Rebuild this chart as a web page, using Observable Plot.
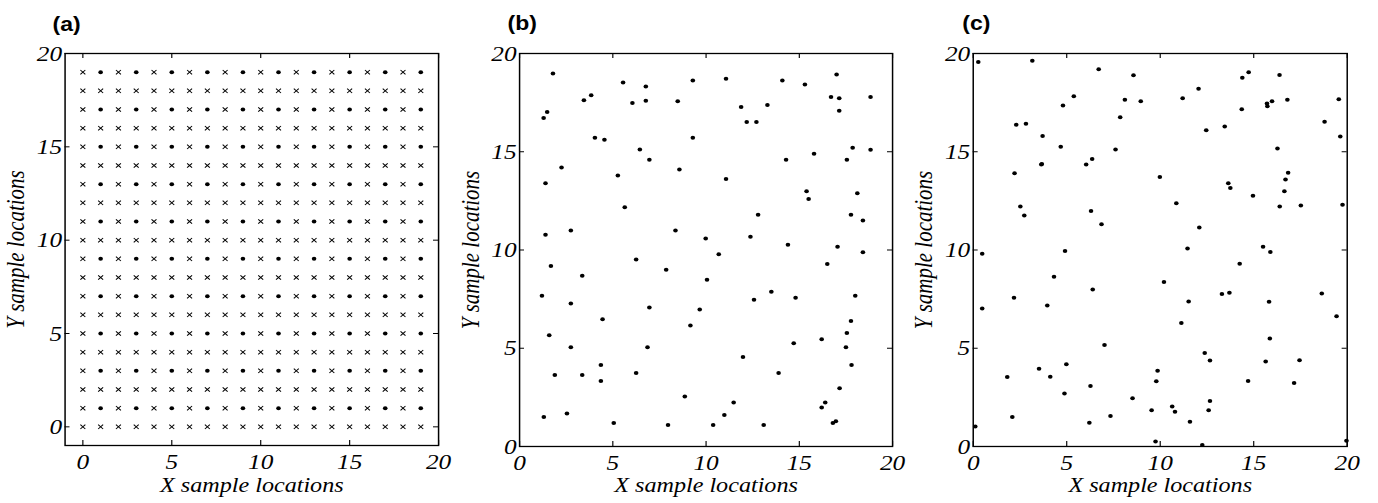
<!DOCTYPE html>
<html><head><meta charset="utf-8">
<script src="https://cdn.jsdelivr.net/npm/d3@7"></script>
<script src="https://cdn.jsdelivr.net/npm/@observablehq/plot@0.6"></script>
<style>
html,body{margin:0;padding:0;background:#fff;overflow:hidden;}
#wrap{position:relative;height:503px;transform-origin:0 0;}
#wrap svg{position:absolute;top:0;max-width:none;background:transparent;}
</style></head><body><div id="wrap"></div>
<script>
// ---------- data ----------
const gridX = [0,1,2,3,4,5,6,7,8,9,10,11,12,13,14,15,16,17,18,19];
const gridY = [0,1,2,3,4,5,6,7,8,9,10,11,12,13,14,15,16,17,18,19];
const dotCols = [1,3,5,7,9,11,13,15,17,19];
const dotRows = [1,3,5,7,9,11,13,15,17,19];

const bX = [1.29,1.48,1.79,1.39,1.39,2.25,2.75,3.45,3.84,4.04,4.55,5.27,5.55,5.64,6.05,6.45,6.77,6.77,6.96,8.36,8.48,8.57,9.29,9.29,9.98,11.07,11.07,11.88,12.18,12.70,12.38,12.79,13.29,14.09,14.29,14.39,15.30,15.39,15.50,15.79,16.70,17.00,17.14,17.14,17.05,17.55,17.86,18.11,17.77,18.41,18.82,18.82,
  1.20,1.68,1.59,1.89,1.30,2.54,2.75,2.75,3.36,3.36,4.36,4.36,4.45,5.05,6.25,6.25,6.86,6.96,7.86,7.96,8.86,9.16,9.66,10.05,10.68,10.38,10.98,11.48,11.98,12.57,13.09,13.50,13.89,14.70,14.80,16.20,16.20,16.39,16.50,16.80,16.96,17.16,17.50,17.55,17.77,17.80,18.00,18.41];
const bY = [16.72,17.02,18.98,13.40,10.78,14.20,10.99,17.62,17.87,15.71,15.61,13.79,18.52,12.18,17.48,15.12,18.32,17.59,14.59,10.99,17.57,14.10,18.62,15.71,10.58,18.72,13.61,17.28,16.51,16.51,10.68,11.79,17.38,18.62,14.59,10.27,18.42,12.99,12.59,14.90,17.79,18.93,17.72,17.09,10.17,14.59,15.20,12.89,11.79,11.50,17.79,15.10,
  7.67,9.18,5.66,3.64,1.50,1.68,7.28,5.05,8.69,3.64,4.15,3.33,6.48,1.19,9.51,3.74,5.05,7.07,9.00,1.09,2.55,6.16,6.97,8.49,9.78,1.09,1.60,2.24,4.56,7.47,1.09,7.87,3.74,5.26,7.57,5.46,1.99,2.24,9.29,1.19,1.28,2.96,5.05,5.77,6.38,4.15,7.67,9.88];

const cX = [0.27,3.16,2.30,2.82,2.21,2.52,2.73,3.71,3.64,3.67,4.68,4.80,5.38,6.04,6.36,6.30,6.71,6.86,7.61,7.86,8.11,8.57,8.96,9.98,10.86,11.20,11.46,12.05,12.09,12.46,13.45,13.64,13.75,14.36,14.39,14.73,14.96,15.50,15.71,15.73,15.98,16.27,16.38,16.80,16.39,16.64,16.70,16.84,17.52,18.79,19.55,19.63,19.75,
  0.11,0.48,0.48,2.18,1.82,2.09,3.52,3.96,4.32,4.12,4.91,4.98,4.88,6.21,6.27,6.39,7.02,7.34,8.52,9.54,9.75,9.79,9.86,10.20,10.64,10.79,11.13,11.52,11.59,12.25,12.38,12.59,12.66,12.66,13.30,13.70,14.25,14.70,15.64,15.82,15.86,15.89,17.16,17.45,18.64,19.43,19.96];
const cY = [19.57,19.63,16.38,16.43,13.91,12.21,11.75,15.80,14.35,14.38,15.26,17.35,17.82,14.35,14.63,11.99,19.20,11.31,15.12,16.75,17.64,18.89,17.57,13.72,12.38,17.72,10.07,18.20,11.14,16.09,16.28,13.40,13.16,17.16,18.76,19.05,12.76,10.17,17.45,17.31,17.57,15.17,18.91,17.64,12.21,12.99,13.59,13.93,12.26,16.53,17.67,15.78,12.30,
  1.02,9.81,7.02,7.57,3.54,1.50,3.96,7.18,8.64,3.55,9.95,4.18,2.70,1.21,3.08,7.99,5.17,1.55,2.45,1.84,0.26,3.32,3.86,8.37,2.04,1.77,6.28,7.38,1.26,0.07,4.76,1.84,4.37,2.31,7.76,7.82,9.30,3.33,4.32,7.36,5.49,9.90,3.23,4.39,7.79,6.63,0.29];

const tickVals = [0,5,10,15,20];
const panelLetters = ["(a)","(b)","(c)"];
const xLabel = "X sample locations";
const yLabel = "Y sample locations";

// ---------- layout ----------
const SX = 1.15;
const wrap = document.getElementById("wrap");
wrap.style.width = (1378 / SX) + "px";
wrap.style.transform = `scaleX(${SX})`;

const serif = "'Liberation Serif', 'Times New Roman', serif";
const sans = "'Liberation Sans', Arial, sans-serif";
const FS = 21;   // axis titles
const TFS = 22;  // tick labels

function panel(cfg) {
  const {left, width, frameL, frameR, top, bottom, xDomain, yDomain, letter, letterX, yLabelX, marks} = cfg;
  const W = width / SX;
  const mL = (frameL - left) / SX, mR = (left + width - frameR) / SX;
  const innerW = W - mL - mR, innerH = bottom - top;
  const tl = 5;
  const tick = {stroke: "black", strokeWidth: 1};
  const txt = {fontFamily: serif, fontStyle: "italic", fontSize: FS, fill: "black"};
  const ttxt = {fontFamily: serif, fontStyle: "italic", fontSize: TFS, fill: "black"};
  const svg = Plot.plot({
    width: W, height: 503,
    marginLeft: mL, marginRight: mR, marginTop: top, marginBottom: 503 - bottom,
    x: {domain: xDomain}, y: {domain: yDomain},
    style: {fontFamily: serif, fontSize: FS + "px", fontStyle: "italic", color: "black", background: "transparent", overflow: "visible"},
    marks: [
      ...marks,
      Plot.frame({stroke: "black", strokeWidth: 1.3}),
      Plot.tickX(tickVals, {x: d => d, ...tick, insetBottom: innerH - tl}),
      Plot.tickX(tickVals, {x: d => d, ...tick, insetTop: innerH - tl}),
      Plot.tickY(tickVals, {y: d => d, ...tick, insetRight: innerW - tl / SX}),
      Plot.tickY(tickVals, {y: d => d, ...tick, insetLeft: innerW - tl / SX}),
      Plot.axisX({ticks: tickVals, tickSize: 0, tickPadding: 8, label: null, ...ttxt}),
      Plot.axisY({ticks: tickVals, tickSize: 0, tickPadding: 3 / SX, label: null, ...ttxt}),
      Plot.text([xLabel], {text: d => d, frameAnchor: "bottom", dy: 46, lineAnchor: "bottom", textAnchor: "middle", ...txt}),
      Plot.text([yLabel], {text: d => d, frameAnchor: "left", rotate: -90, dx: (yLabelX - frameL) / SX, lineAnchor: "bottom", textAnchor: "middle", ...txt}),
      Plot.text([letter], {text: d => d, frameAnchor: "top-left", dx: (letterX - frameL) / SX, dy: 30 - top,
        lineAnchor: "bottom", textAnchor: "start", fontFamily: sans, fontWeight: "bold", fontStyle: "normal", fontSize: 20, fill: "black"})
    ]
  });
  svg.style.left = (left / SX) + "px";
  wrap.appendChild(svg);
}

// panel (a)
const gridPts = gridY.flatMap(y => gridX.map(x => ({x, y, dot: dotCols.includes(x) && dotRows.includes(y)})));
panel({
  left: 0, width: 460, frameL: 64.5, frameR: 438, top: 53, bottom: 445,
  xDomain: [-1, 20], yDomain: [-1, 20], letter: panelLetters[0], letterX: 52, yLabelX: 23,
  marks: [
    Plot.dot(gridPts.filter(d => !d.dot), {x: "x", y: "y", symbol: "times", r: 2.1, stroke: "black", strokeWidth: 0.9}),
    Plot.dot(gridPts.filter(d => d.dot), {x: "x", y: "y", r: 2, fill: "black", stroke: "none"})
  ]
});

// panel (b)
const bPts = bX.map((x, i) => ({x, y: bY[i]}));
panel({
  left: 460, width: 450, frameL: 519, frameR: 892, top: 53, bottom: 446,
  xDomain: [0, 20], yDomain: [0, 20], letter: panelLetters[1], letterX: 507, yLabelX: 478,
  marks: [Plot.dot(bPts, {x: "x", y: "y", r: 2, fill: "black", stroke: "none"})]
});

// panel (c)
const cPts = cX.map((x, i) => ({x, y: cY[i]}));
panel({
  left: 910, width: 468, frameL: 973, frameR: 1347, top: 53, bottom: 446,
  xDomain: [0, 20], yDomain: [0, 20], letter: panelLetters[2], letterX: 962, yLabelX: 932,
  marks: [Plot.dot(cPts, {x: "x", y: "y", r: 2, fill: "black", stroke: "none"})]
});
</script></body></html>
